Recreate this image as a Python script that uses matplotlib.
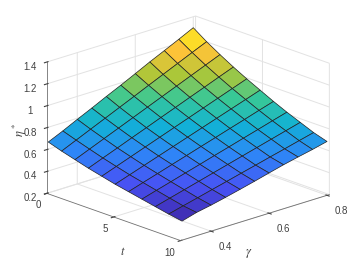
import matplotlib
matplotlib.use("Agg")
import matplotlib.pyplot as plt
import numpy as np
from matplotlib.colors import LinearSegmentedColormap

plt.rcParams["font.family"] = ["Liberation Sans", "DejaVu Sans"]
plt.rcParams["mathtext.fontset"] = "stix"

t = [0, 1, 2, 3, 4, 5, 6, 7, 8, 9, 10]
gamma = [0.3, 0.35, 0.4, 0.45, 0.5, 0.55, 0.6, 0.65, 0.7, 0.75, 0.8]
# rows are t, columns are gamma
eta = [
    [0.665, 0.725, 0.790, 0.852, 0.917, 0.979, 1.044, 1.110, 1.172, 1.235, 1.300],
    [0.625, 0.684, 0.743, 0.802, 0.861, 0.920, 0.980, 1.039, 1.098, 1.157, 1.215],
    [0.590, 0.645, 0.700, 0.755, 0.810, 0.865, 0.920, 0.975, 1.030, 1.085, 1.140],
    [0.555, 0.607, 0.658, 0.710, 0.761, 0.813, 0.864, 0.916, 0.967, 1.019, 1.070],
    [0.525, 0.573, 0.621, 0.669, 0.717, 0.765, 0.813, 0.861, 0.909, 0.957, 1.005],
    [0.495, 0.540, 0.585, 0.630, 0.675, 0.720, 0.765, 0.810, 0.855, 0.900, 0.945],
    [0.470, 0.512, 0.553, 0.595, 0.636, 0.678, 0.719, 0.761, 0.802, 0.844, 0.885],
    [0.445, 0.484, 0.522, 0.561, 0.599, 0.638, 0.676, 0.715, 0.753, 0.792, 0.830],
    [0.420, 0.456, 0.492, 0.528, 0.564, 0.600, 0.636, 0.672, 0.708, 0.744, 0.780],
    [0.395, 0.429, 0.462, 0.496, 0.529, 0.563, 0.596, 0.630, 0.663, 0.697, 0.730],
    [0.374, 0.412, 0.438, 0.468, 0.500, 0.533, 0.568, 0.602, 0.632, 0.660, 0.692],
]
t_ticks = [0, 5, 10]
gamma_ticks = [0.4, 0.6, 0.8]
eta_ticks = [0.2, 0.4, 0.6, 0.8, 1, 1.2, 1.4]
eta_labels = ["0.2", "0.4", "0.6", "0.8", "1", "1.2", "1.4"]
parula = [(0.2422, 0.1504, 0.6603), (0.2810, 0.3228, 0.9579), (0.1786, 0.5289, 0.9682),
          (0.0689, 0.6948, 0.8394), (0.2161, 0.7843, 0.5923), (0.6720, 0.7793, 0.2227),
          (0.9970, 0.7659, 0.2199), (0.9769, 0.9839, 0.0805)]

cmap = LinearSegmentedColormap.from_list("parula", parula)
T, G = np.meshgrid(t, gamma, indexing="ij")
Z = np.array(eta)

fig = plt.figure(figsize=(3.63, 2.73), dpi=100)
ax = fig.add_axes([2.9 / 363, 4.5 / 273, 1, 1], projection="3d", proj_type="ortho")
ax.view_init(elev=19.3, azim=-43.1)
ax.set_box_aspect((197, 205, 140), zoom=1.12)
surf = ax.plot_surface(T, G, Z, cmap=cmap, vmin=Z.min(), vmax=Z.max(), rstride=1, cstride=1,
                       linewidth=0.5, edgecolor="#222222", antialiased=True, shade=False)
ax.set_xlim(0, 10)
ax.set_ylim(0.295, 0.808)
ax.set_zlim(0.2, 1.4)
ax.set_xticks(t_ticks)
ax.set_yticks(gamma_ticks)
ax.set_zticks(eta_ticks)
ax.set_zticklabels(eta_labels)
ax.tick_params(labelsize=7, colors="#404040")
ax.tick_params(axis="x", pad=-4)
ax.tick_params(axis="y", pad=-2)
ax.tick_params(axis="z", pad=-2)
plt.setp(ax.get_xticklabels(), ha="right")
plt.setp(ax.get_yticklabels(), ha="left")
ax.zaxis.set_ticks_position("lower")
for a in (ax.xaxis, ax.yaxis, ax.zaxis):
    a.set_pane_color((1, 1, 1, 0))
    a.pane.set_edgecolor((1, 1, 1, 0))
    a._axinfo["grid"].update(color="#e2e2e2", linewidth=0.7)
    a._axinfo["axisline"]["color"] = "#707070"
    a.line.set_linewidth(0.6)
    a.line.set_color("#707070")
for art in ax.get_children():
    art.set_clip_on(False)

fig.text(123 / 363, 1 - 252 / 273, r"$t$", fontsize=9, color="#404040", ha="center", va="center")
fig.text(249 / 363, 1 - 254 / 273, r"$\gamma$", fontsize=9, color="#404040", ha="center", va="center")
fig.text(20 / 363, 1 - 130 / 273, r"$\eta^*$", fontsize=9, color="#404040", ha="center", va="center",
         rotation=90)
fig.savefig("out.png", dpi=100)
